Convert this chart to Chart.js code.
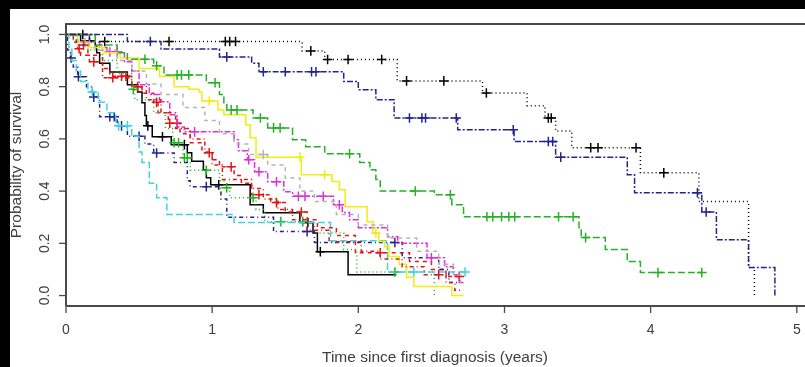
<!DOCTYPE html>
<html>
<head>
<meta charset="utf-8">
<script src="https://cdn.jsdelivr.net/npm/chart.js@4.4.1/dist/chart.umd.min.js"></script>
<style>
  html, body { margin: 0; padding: 0; background: #fff; }
  #wrap { width: 805px; height: 367px; }
</style>
</head>
<body>
<div id="wrap"><canvas id="kmChart" width="805" height="367"></canvas></div>
<script>
// ===============================
// AXES / LABELS
// ===============================
const xTicks = [0, 1, 2, 3, 4, 5];
const yTicks = [0.0, 0.2, 0.4, 0.6, 0.8, 1.0];
const yTickLabels = ["0.0", "0.2", "0.4", "0.6", "0.8", "1.0"];
const xTitle = "Time since first diagnosis (years)";
const yTitle = "Probability of survival";

// ===============================
// SURVIVAL CURVES (time in years, survival, censor times)
// ===============================
// group 1 - black solid
const g1Time = [0, 0.10, 0.20, 0.21, 0.23, 0.30, 0.42, 0.49, 0.52, 0.54, 0.55, 0.59, 0.72, 0.83, 0.86, 0.94, 0.96, 0.99, 1.26, 1.35, 1.60, 1.69, 1.72, 1.93, 2.26];
const g1Surv = [1, 0.975, 0.955, 0.93, 0.89, 0.856, 0.807, 0.78, 0.738, 0.69, 0.65, 0.608, 0.578, 0.547, 0.514, 0.482, 0.451, 0.424, 0.348, 0.317, 0.28, 0.24, 0.168, 0.08, 0.08];
const g1Cens = [0.16, 0.56, 0.66, 0.81, 1.045, 1.655, 1.74];

// group 2 - red dashed
const g2Time = [0, 0.05, 0.08, 0.10, 0.16, 0.25, 0.30, 0.45, 0.52, 0.60, 0.63, 0.70, 0.78, 0.85, 0.93, 1.00, 1.05, 1.15, 1.20, 1.27, 1.40, 1.50, 1.65, 1.72, 1.85, 1.98, 2.35, 2.50, 2.60, 2.70];
const g2Surv = [1, 0.97, 0.945, 0.92, 0.895, 0.87, 0.84, 0.80, 0.775, 0.74, 0.70, 0.66, 0.62, 0.585, 0.547, 0.52, 0.493, 0.46, 0.43, 0.386, 0.356, 0.32, 0.29, 0.26, 0.23, 0.164, 0.13, 0.10, 0.073, 0.073];
const g2Cens = [0.09, 0.19, 0.38, 0.41, 0.49, 0.62, 0.71, 0.76, 0.98, 1.13, 1.32, 1.44, 1.61, 2.15, 2.69];

// group 3 - green dotted
const g3Time = [0, 0.05, 0.15, 0.25, 0.35, 0.45, 0.47, 0.60, 0.68, 0.73, 0.80, 0.85, 1.05, 1.08, 1.12, 1.30, 1.36, 1.70, 1.90, 1.99, 2.52];
const g3Surv = [1, 0.97, 0.94, 0.90, 0.85, 0.79, 0.75, 0.70, 0.64, 0.585, 0.528, 0.48, 0.44, 0.413, 0.375, 0.33, 0.283, 0.24, 0.176, 0.09, 0];
const g3Cens = [0.46, 0.74, 0.77, 0.81, 0.83, 0.96, 1.10, 1.28, 1.47, 1.62, 2.25];

// group 4 - blue dot-dash (lower)
const g4Time = [0, 0.01, 0.03, 0.05, 0.08, 0.14, 0.18, 0.23, 0.35, 0.42, 0.54, 0.60, 0.74, 0.83, 0.85, 1.06, 1.10, 1.42, 1.70, 2.30, 2.55, 2.62, 2.68];
const g4Surv = [1, 0.94, 0.91, 0.875, 0.838, 0.80, 0.76, 0.685, 0.65, 0.61, 0.58, 0.546, 0.51, 0.44, 0.417, 0.37, 0.30, 0.245, 0.203, 0.145, 0.10, 0.05, 0.05];
const g4Cens = [0.035, 0.085, 0.19, 0.30, 0.33, 0.38, 0.50, 0.62, 0.96, 1.65, 2.25];

// group 5 - cyan long dash
const g5Time = [0, 0.02, 0.04, 0.07, 0.10, 0.15, 0.22, 0.28, 0.34, 0.45, 0.50, 0.52, 0.57, 0.62, 0.69, 1.15, 1.81, 2.20, 2.73];
const g5Surv = [1, 0.95, 0.90, 0.86, 0.82, 0.78, 0.74, 0.70, 0.65, 0.61, 0.55, 0.51, 0.43, 0.375, 0.31, 0.28, 0.21, 0.09, 0.09];
const g5Cens = [0.18, 0.36, 0.42, 2.38, 2.73];

// group 6 - magenta two-dash
const g6Time = [0, 0.16, 0.23, 0.28, 0.40, 0.45, 0.50, 0.57, 0.64, 0.71, 0.76, 0.81, 1.15, 1.18, 1.24, 1.29, 1.38, 1.49, 1.55, 1.83, 1.89, 1.94, 2.00, 2.20, 2.27, 2.47, 2.59, 2.65, 2.69, 2.72];
const g6Surv = [1, 0.97, 0.95, 0.933, 0.895, 0.86, 0.807, 0.77, 0.742, 0.692, 0.646, 0.627, 0.597, 0.555, 0.52, 0.474, 0.436, 0.398, 0.38, 0.348, 0.318, 0.29, 0.26, 0.225, 0.20, 0.145, 0.11, 0.08, 0.05, 0.05];
const g6Cens = [0.30, 0.35, 0.88, 1.25, 1.32, 1.44, 1.59, 1.635, 1.76, 1.87, 2.50];

// group 7 - yellow solid
const g7Time = [0, 0.08, 0.16, 0.26, 0.37, 0.50, 0.64, 0.74, 0.84, 0.91, 0.93, 1.04, 1.08, 1.23, 1.26, 1.30, 1.61, 1.82, 1.87, 1.91, 2.06, 2.10, 2.14, 2.18, 2.21, 2.28, 2.33, 2.38, 2.64, 2.72];
const g7Surv = [1, 0.97, 0.95, 0.93, 0.91, 0.87, 0.84, 0.80, 0.79, 0.78, 0.745, 0.711, 0.692, 0.654, 0.604, 0.53, 0.463, 0.437, 0.405, 0.34, 0.283, 0.24, 0.207, 0.187, 0.15, 0.12, 0.07, 0.035, 0, 0];
const g7Cens = [0.98, 1.60, 1.77, 2.12];

// group 8 - gray dashed
const g8Time = [0, 0.08, 0.20, 0.35, 0.45, 0.55, 0.65, 0.80, 0.95, 1.05, 1.15, 1.25, 1.38, 1.50, 1.60, 1.70, 1.85, 2.00, 2.20, 2.40, 2.55, 2.65, 2.70, 2.72];
const g8Surv = [1, 0.97, 0.94, 0.90, 0.86, 0.81, 0.77, 0.72, 0.67, 0.62, 0.58, 0.54, 0.50, 0.45, 0.40, 0.36, 0.31, 0.27, 0.22, 0.17, 0.12, 0.08, 0.04, 0.04];
const g8Cens = [0.13, 1.35];

// group 9 - black dotted (upper)
const g9Time = [0, 0.163, 1.615, 1.77, 2.266, 2.85, 3.155, 3.277, 3.35, 3.46, 3.93, 4.33, 4.67, 4.71];
const g9Surv = [1, 0.973, 0.937, 0.904, 0.822, 0.776, 0.727, 0.68, 0.63, 0.566, 0.47, 0.36, 0.107, 0];
const g9Cens = [0.115, 0.265, 0.705, 1.09, 1.12, 1.16, 1.675, 1.79, 1.93, 2.16, 2.33, 2.585, 2.876, 3.30, 3.32, 3.59, 3.64, 3.90, 4.09];

// group 10 - red dot-dash
const g10Time = [0, 0.07, 0.15, 0.25, 0.45, 0.55, 0.65, 0.75, 0.85, 0.95, 1.00, 1.07, 1.27, 1.35, 1.45, 1.55, 1.65, 1.80, 2.02, 2.15, 2.30, 2.45, 2.60, 2.66, 2.70];
const g10Surv = [1, 0.96, 0.92, 0.834, 0.80, 0.75, 0.70, 0.64, 0.60, 0.55, 0.50, 0.444, 0.41, 0.37, 0.33, 0.29, 0.25, 0.206, 0.17, 0.14, 0.11, 0.08, 0.05, 0.02, 0.02];
const g10Cens = [0.12, 0.32, 2.55];

// group 11 - green long dash (upper)
const g11Time = [0, 0.20, 0.35, 0.42, 0.60, 0.67, 0.96, 1.05, 1.08, 1.10, 1.28, 1.38, 1.55, 1.64, 1.77, 2.01, 2.08, 2.12, 2.15, 2.52, 2.64, 2.72, 3.51, 3.525, 3.69, 3.84, 3.93, 4.35];
const g11Surv = [1, 0.96, 0.93, 0.905, 0.88, 0.845, 0.815, 0.77, 0.738, 0.711, 0.68, 0.642, 0.597, 0.57, 0.543, 0.51, 0.482, 0.444, 0.40, 0.386, 0.348, 0.302, 0.26, 0.222, 0.176, 0.13, 0.088, 0.088];
const g11Cens = [0.54, 0.62, 0.76, 0.79, 0.84, 1.02, 1.13, 1.17, 1.33, 1.42, 1.465, 1.94, 2.39, 2.63, 2.88, 2.92, 2.98, 3.03, 3.07, 3.37, 3.47, 3.555, 4.05, 4.35];

// group 12 - blue two-dash (upper)
const g12Time = [0, 0.42, 0.65, 1.05, 1.27, 1.32, 1.90, 2.00, 2.12, 2.245, 2.68, 3.066, 3.35, 3.84, 3.89, 4.35, 4.45, 4.67, 4.85];
const g12Surv = [1, 0.973, 0.944, 0.914, 0.89, 0.857, 0.82, 0.788, 0.75, 0.68, 0.635, 0.59, 0.53, 0.463, 0.394, 0.32, 0.214, 0.107, 0];
const g12Cens = [0.577, 1.10, 1.35, 1.50, 1.68, 1.71, 2.35, 2.435, 2.46, 2.67, 3.06, 3.30, 3.33, 3.385, 4.32, 4.38];

// ===============================
// STYLES (one per group)
// ===============================
const groupColors = ['#000000', '#e81414', '#1fb41f', '#24248f', '#3fd3e3', '#e030dc',
                     '#f0ee10', '#b4b4b4', '#000000', '#d41c1c', '#26b026', '#24248f'];
const groupDashes = [[], [4, 4], [1, 3], [1, 3, 4, 3], [7, 3], [2, 2, 6, 2],
                     [], [4, 4], [1, 3], [1, 3, 4, 3], [7, 3], [2, 2, 6, 2]];

const groups = [
    [g1Time, g1Surv, g1Cens], [g2Time, g2Surv, g2Cens], [g3Time, g3Surv, g3Cens],
    [g4Time, g4Surv, g4Cens], [g5Time, g5Surv, g5Cens], [g6Time, g6Surv, g6Cens],
    [g7Time, g7Surv, g7Cens], [g8Time, g8Surv, g8Cens], [g9Time, g9Surv, g9Cens],
    [g10Time, g10Surv, g10Cens], [g11Time, g11Surv, g11Cens], [g12Time, g12Surv, g12Cens]
];

// survival value of a step curve at time t
function survAt(times, surv, t) {
    let s = surv[0];
    for (let i = 0; i < times.length; i++) {
        if (times[i] <= t) s = surv[i];
    }
    return s;
}

// ===============================
// DATASETS
// ===============================
const datasets = [];
groups.forEach(function (g, i) {
    const [times, surv, cens] = g;
    datasets.push({
        type: 'line',
        data: times.map((t, k) => ({ x: t, y: surv[k] })),
        stepped: true,
        borderColor: groupColors[i],
        borderWidth: 1.5,
        borderDash: groupDashes[i],
        pointRadius: 0,
        fill: false
    });
    datasets.push({
        type: 'scatter',
        data: cens.map(t => ({ x: t, y: survAt(times, surv, t) })),
        pointStyle: 'cross',
        pointRadius: 4.8,
        borderColor: groupColors[i],
        backgroundColor: groupColors[i],
        borderWidth: 1.5
    });
});
// R draws later groups on top; Chart.js draws the first dataset on top
datasets.reverse();

// ===============================
// R-STYLE FRAME, TICKS AND TITLES
// ===============================
const TICK_FONT = '14px "Liberation Sans", Arial, sans-serif';
const TITLE_FONT = '15.5px "Liberation Sans", Arial, sans-serif';

const rFrame = {
    id: 'rFrame',
    beforeDraw(chart) {
        const ctx = chart.ctx;
        ctx.save();
        ctx.fillStyle = '#ffffff';
        ctx.fillRect(0, 0, chart.width, chart.height);
        ctx.fillStyle = '#000000';
        ctx.fillRect(0, 0, chart.width, 9);
        ctx.fillRect(0, 0, 10, chart.height);
        ctx.restore();
    },
    afterDraw(chart) {
        const { ctx, chartArea: a, scales } = chart;
        const xs = scales.x, ys = scales.y;
        ctx.save();

        // box (right side falls outside the picture)
        ctx.strokeStyle = '#4a4a4a';
        ctx.lineWidth = 2;
        ctx.beginPath();
        ctx.moveTo(a.left, a.bottom);
        ctx.lineTo(a.left, a.top);
        ctx.lineTo(chart.width, a.top);
        ctx.moveTo(a.left, a.bottom);
        ctx.lineTo(chart.width, a.bottom);
        ctx.stroke();

        ctx.lineWidth = 1.3;
        ctx.fillStyle = '#404040';
        ctx.font = TICK_FONT;
        ctx.textAlign = 'center';
        ctx.textBaseline = 'middle';

        // x ticks
        xTicks.forEach(function (v) {
            const px = xs.getPixelForValue(v);
            ctx.beginPath();
            ctx.moveTo(px, a.bottom);
            ctx.lineTo(px, a.bottom + 7);
            ctx.stroke();
            ctx.fillText(String(v), px, a.bottom + 24);
        });

        // y ticks (labels parallel to the axis)
        yTicks.forEach(function (v, i) {
            const py = ys.getPixelForValue(v);
            ctx.beginPath();
            ctx.moveTo(a.left - 7, py);
            ctx.lineTo(a.left, py);
            ctx.stroke();
            ctx.save();
            ctx.translate(45, py);
            ctx.rotate(-Math.PI / 2);
            ctx.fillText(yTickLabels[i], 0, 0);
            ctx.restore();
        });

        // titles
        ctx.font = TITLE_FONT;
        ctx.fillText(xTitle, 435, 358);
        ctx.save();
        ctx.translate(17, (a.top + a.bottom) / 2);
        ctx.rotate(-Math.PI / 2);
        ctx.fillText(yTitle, 0, 0);
        ctx.restore();

        ctx.restore();
    }
};

// ===============================
// CHART
// ===============================
new Chart(document.getElementById('kmChart').getContext('2d'), {
    type: 'line',
    data: { datasets: datasets },
    options: {
        responsive: false,
        animation: false,
        devicePixelRatio: 1,
        layout: { padding: { left: 66, top: 24, right: 0, bottom: 61 } },
        plugins: {
            legend: { display: false },
            tooltip: { enabled: false }
        },
        scales: {
            x: { type: 'linear', min: 0, max: 5.013, display: false },
            y: { type: 'linear', min: -0.04, max: 1.04, display: false }
        }
    },
    plugins: [rFrame]
});
</script>
</body>
</html>
